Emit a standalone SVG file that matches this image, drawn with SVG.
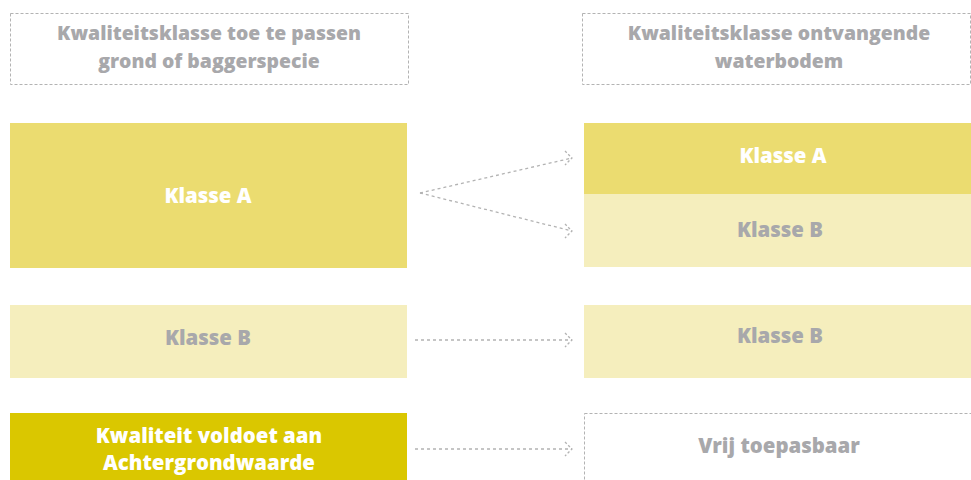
<svg xmlns="http://www.w3.org/2000/svg" width="971" height="480" viewBox="0 0 971 480">
<defs>
<style>
.t{font-family:"Open Sans","Noto Sans","Liberation Sans",sans-serif;font-weight:800;font-size:20.4px;text-anchor:middle}
.h{font-size:19.4px}
.g{fill:#a8a8ab}
.w{fill:#ffffff}
.hdr{fill:none;stroke:#b3b3b3;stroke-width:1;stroke-dasharray:3 2}
.con{fill:none;stroke:#b3b3b3;stroke-width:1.3;stroke-dasharray:3 3}
.ah{fill:none;stroke:#b3b3b3;stroke-width:1.3;stroke-dasharray:2.5 2}
</style>
</defs>
<g id="hdr-left">
<rect class="hdr" x="10.5" y="13.5" width="398" height="71"/>
<text class="t h g" x="209" y="40">Kwaliteitsklasse toe te passen</text>
<text class="t h g" x="209" y="68">grond of baggerspecie</text>
</g>
<g id="hdr-right">
<rect class="hdr" x="582.5" y="13.5" width="388" height="71"/>
<text class="t h g" x="779" y="40">Kwaliteitsklasse ontvangende</text>
<text class="t h g" x="779" y="68">waterbodem</text>
</g>
<g id="left-a">
<rect x="10" y="123" width="397" height="145" fill="#ebdc70"/>
<text class="t w" x="208" y="203">Klasse A</text>
</g>
<g id="left-b">
<rect x="10" y="305" width="397" height="73" fill="#f5eebd"/>
<text class="t g" x="208" y="345">Klasse B</text>
</g>
<g id="left-c">
<rect x="10" y="413" width="397" height="67" fill="#dac700"/>
<text class="t w" x="209" y="443">Kwaliteit voldoet aan</text>
<text class="t w" x="209" y="470">Achtergrondwaarde</text>
</g>
<g id="right-a">
<rect x="584" y="123" width="387" height="71" fill="#ebdc70"/>
<text class="t w" x="783" y="163">Klasse A</text>
</g>
<g id="right-ab">
<rect x="584" y="194" width="387" height="73" fill="#f5eebd"/>
<text class="t g" x="780" y="237">Klasse B</text>
</g>
<g id="right-b">
<rect x="584" y="305" width="387" height="73" fill="#f5eebd"/>
<text class="t g" x="780" y="343">Klasse B</text>
</g>
<g id="right-c">
<rect class="hdr" x="584.5" y="413.5" width="388" height="70"/>
<text class="t g" x="779" y="453">Vrij toepasbaar</text>
</g>
<g id="connectors">
<path class="con" d="M420,193 L572,158"/>
<path class="ah" d="M565,151 L572,158 L565,165"/>
<path class="con" d="M420,193 L572,231"/>
<path class="ah" d="M565,224 L572,231 L565,238"/>
<path class="con" d="M415,340 L572,340"/>
<path class="ah" d="M565,333 L572,340 L565,347"/>
<path class="con" d="M415,449 L572,449"/>
<path class="ah" d="M565,442 L572,449 L565,456"/>
</g>
</svg>
